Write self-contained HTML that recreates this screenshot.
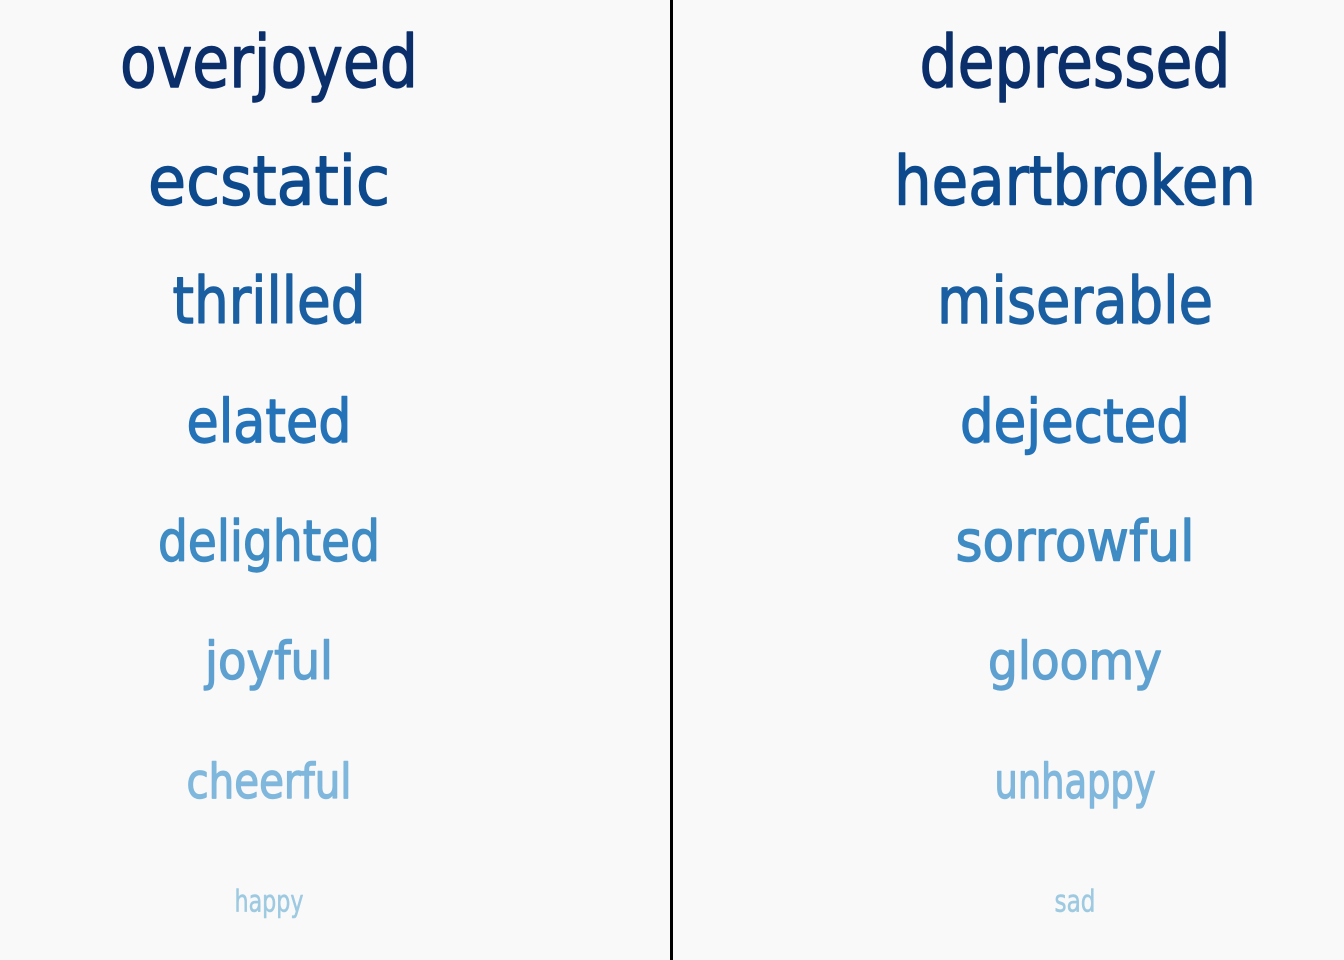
<!DOCTYPE html>
<html><head><meta charset="utf-8"><style>
html,body{margin:0;padding:0;background:#f9f9f9;}
svg{display:block;}
</style></head><body>
<svg id="chart" width="1344" height="960" xmlns="http://www.w3.org/2000/svg">
<rect x="0" y="0" width="1344" height="960" fill="#f9f9f9"/>
<line x1="671.5" y1="0" x2="671.5" y2="960" stroke="#000" stroke-width="3"/>
<g id="words"></g>
</svg>
<script>
const happyWords = ["overjoyed","ecstatic","thrilled","elated","delighted","joyful","cheerful","happy"];
const sadWords = ["depressed","heartbroken","miserable","dejected","sorrowful","gloomy","unhappy","sad"];
const intensity = [8,7,6,5,4,3,2,1];
const happyWidths = [298,242,193,165,222,128,165,69];
const sadWidths = [311,362,276,230,239,174,161,41];
const colors = ["#0b2f6b","#0d4a8d","#1a5fa2","#2473b8","#3f8bc4","#5ea1d0","#80b7dc","#9ecae1"];
const g = document.getElementById('words');
const NS = "http://www.w3.org/2000/svg";
function yPos(i){ return 62 + i*120; }
function fontSize(v){ return v===1 ? 30 : 40 + v*4; }
function addCol(words, widths, cx, side){
  words.forEach((w,i)=>{
    const t = document.createElementNS(NS,'text');
    t.setAttribute('x', cx);
    t.setAttribute('y', yPos(i));
    t.setAttribute('text-anchor','middle');
    t.setAttribute('dominant-baseline','central');
    t.setAttribute('font-family','"DejaVu Sans", "Liberation Sans", sans-serif');
    t.setAttribute('font-size', fontSize(intensity[i]));
    t.setAttribute('fill', colors[i]);
    t.setAttribute('stroke', colors[i]);
    t.setAttribute('stroke-width', intensity[i]===1 ? 0.6 : 1.4);
    t.setAttribute('stroke-linejoin','round');
    t.setAttribute('textLength', widths[i]);
    t.setAttribute('lengthAdjust','spacingAndGlyphs');
    t.textContent = w;
    
    
    g.appendChild(t);
  });
}
addCol(happyWords, happyWidths, 269, 'happy');
addCol(sadWords, sadWidths, 1075, 'sad');
</script>
</body></html>
